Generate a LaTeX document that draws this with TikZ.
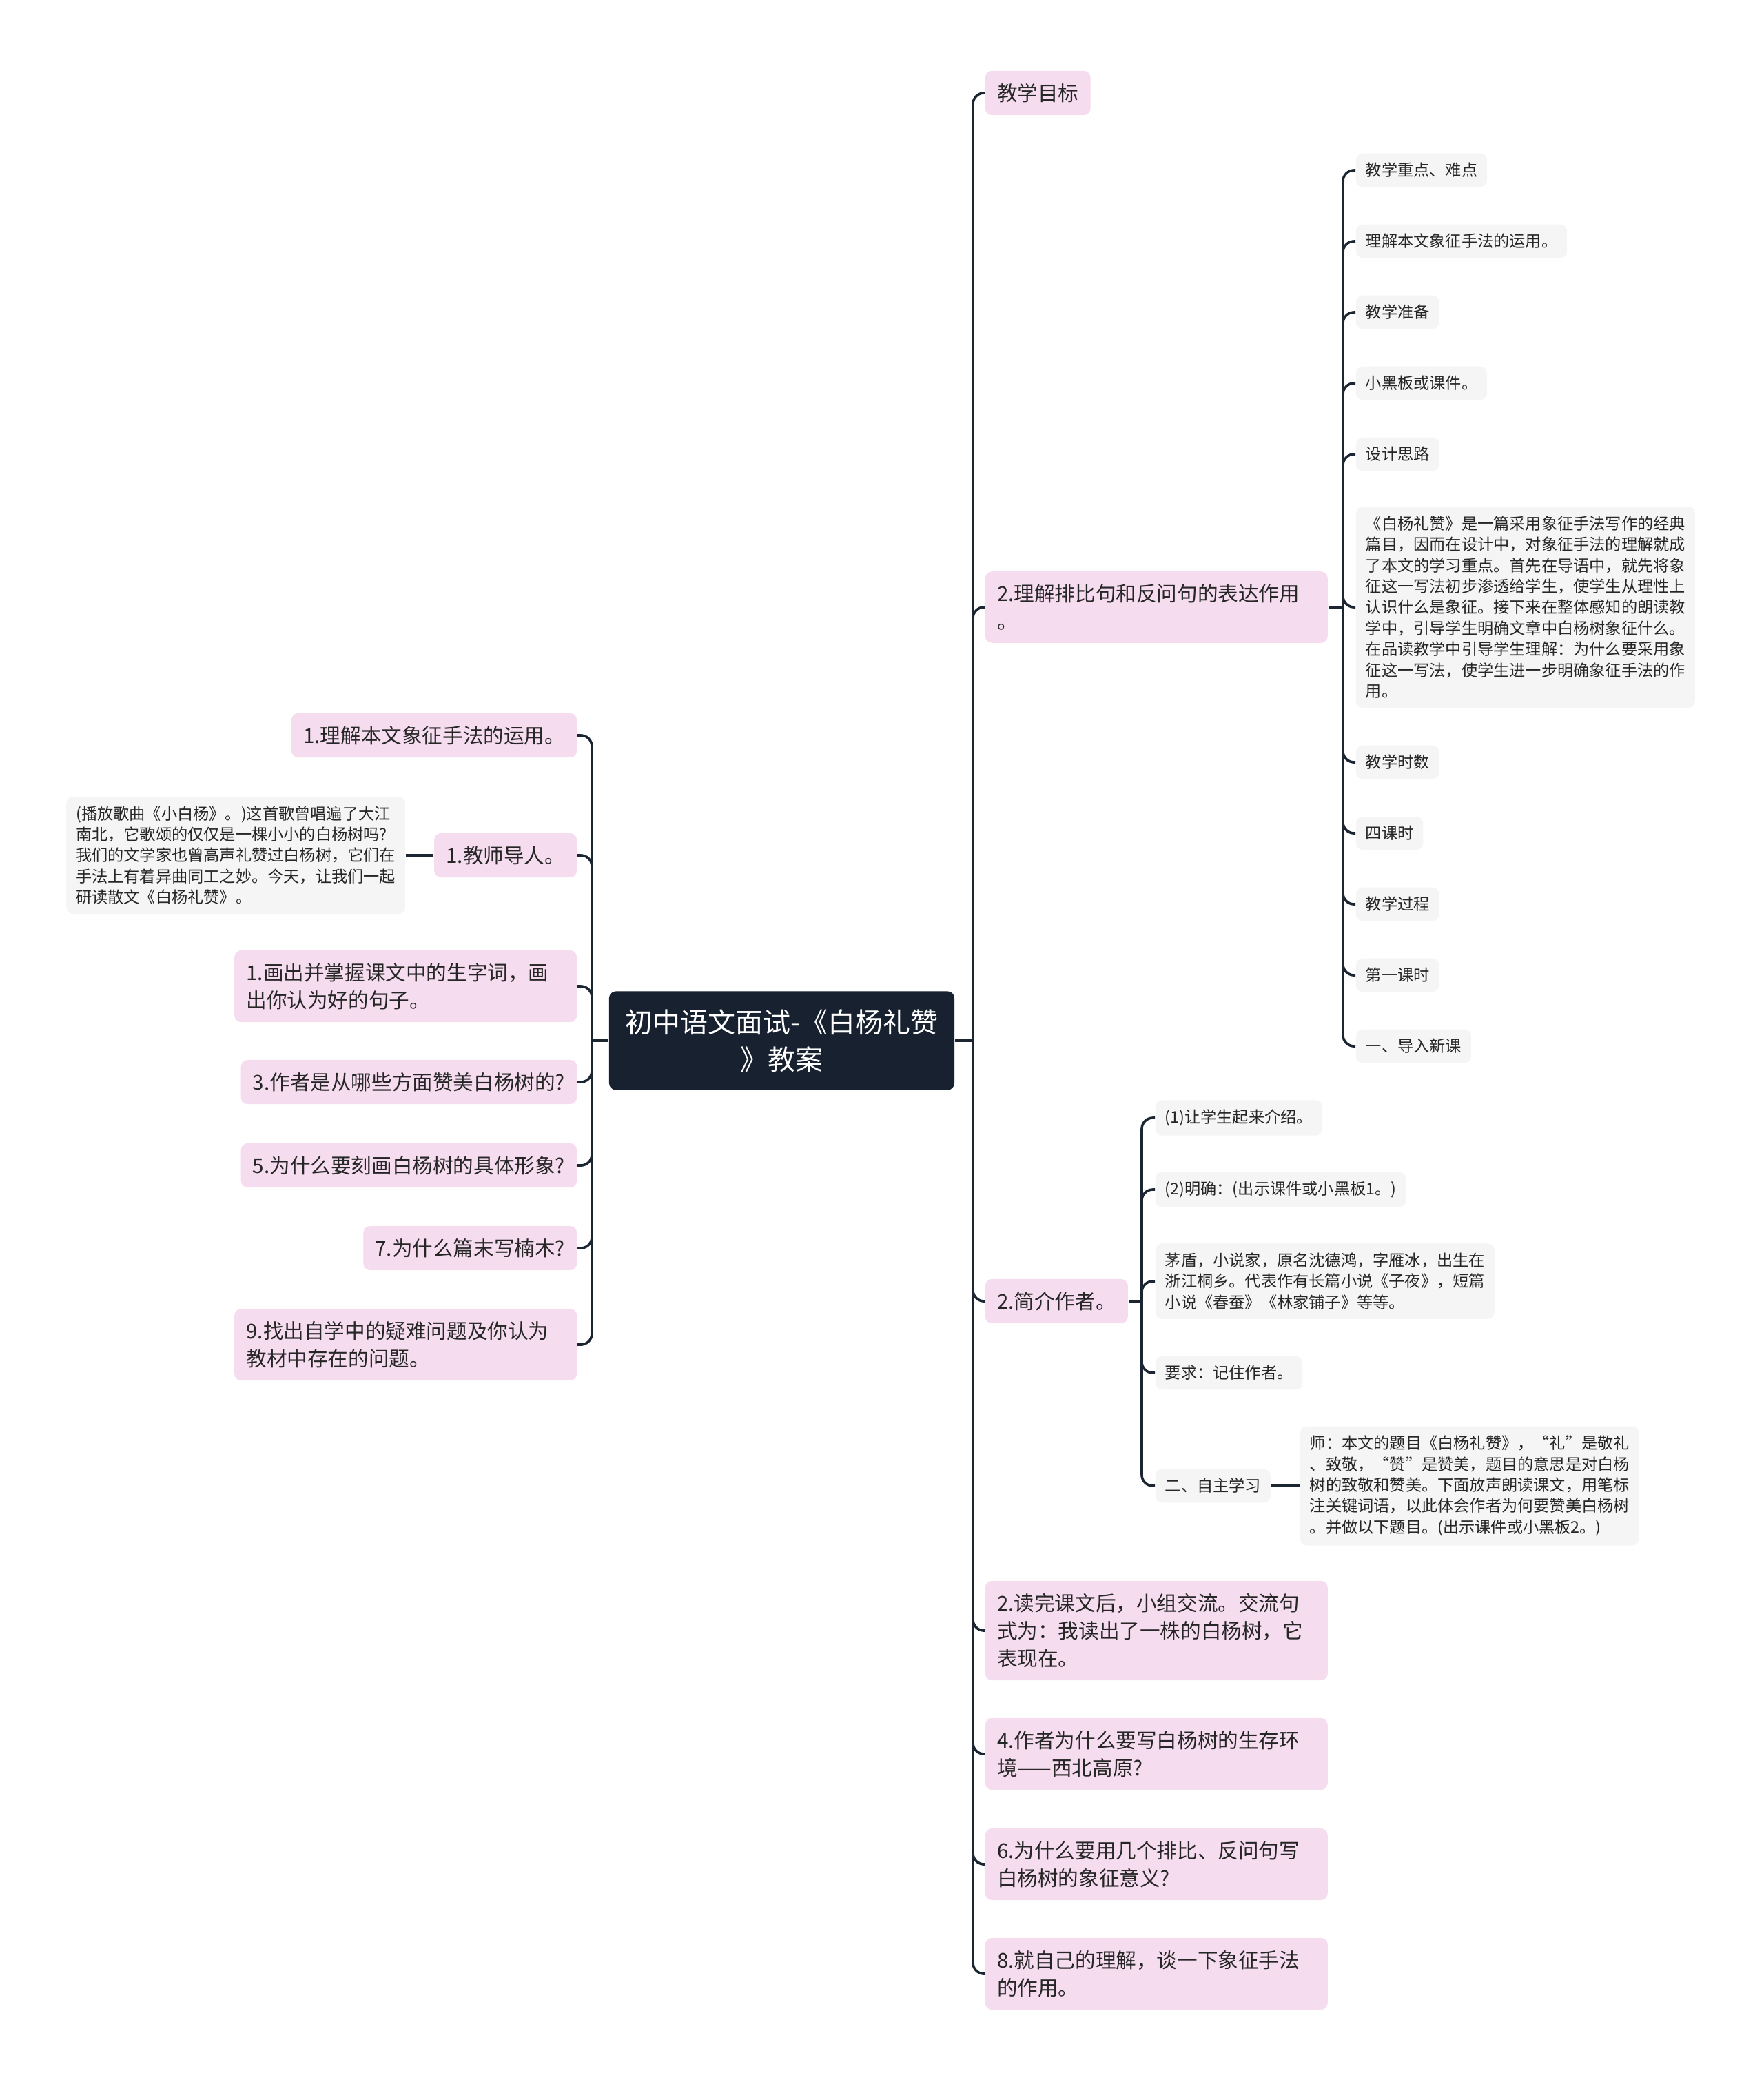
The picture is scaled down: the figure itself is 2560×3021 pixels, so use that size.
\documentclass[tikz,border=0pt]{standalone}
\usepackage{fontspec}
\setmainfont{Noto Sans CJK SC}
\definecolor{pinkc}{HTML}{F5DCEF}
\definecolor{grayc}{HTML}{F5F5F5}
\definecolor{rootc}{HTML}{17212F}
\definecolor{linec}{HTML}{1C2633}
\definecolor{textc}{HTML}{262626}
\newcommand\fpink{\fontsize{7.4pt}{10pt}\selectfont}
\newcommand\fgray{\fontsize{5.8pt}{7.6pt}\selectfont}
\newcommand\froot{\fontsize{10pt}{13.5pt}\selectfont}
\begin{document}
\begin{tikzpicture}[x=0.25pt,y=-0.25pt,
  conn/.style={draw=linec,line width=0.9pt,rounded corners=4pt},
  pinkbox/.style={fill=pinkc,rounded corners=2.5pt,inner xsep=4.3pt,inner ysep=4.6pt,align=left,font=\fpink,text=textc},
  pinkwide/.style={pinkbox,text width=115.65pt},
  graybox/.style={fill=grayc,rounded corners=2.5pt,inner xsep=3.5pt,inner ysep=3.4pt,align=left,font=\fgray,text=textc},
  rootbox/.style={fill=rootc,rounded corners=2.5pt,inner xsep=5.9pt,inner ysep=6.5pt,align=center,font=\froot,text=white}]
\useasboundingbox (0,0) rectangle (2560,3021);

% root
\node[rootbox] (root) at (1134.5,1510) {初中语文面试-《白杨礼赞\\》教案};

% right level 1
\node[pinkbox,anchor=west] (r1) at (1429,135) {教学目标};
\node[pinkwide,anchor=west] (r2) at (1429,881) {2.理解排比句和反问句的表达作用\\。};
\node[pinkbox,anchor=west] (r3) at (1429,1888) {2.简介作者。};
\node[pinkwide,anchor=west] (r4) at (1429,2366) {2.读完课文后，小组交流。交流句\\式为：我读出了一株的白杨树，它\\表现在。};
\node[pinkwide,anchor=west] (r5) at (1429,2545) {4.作者为什么要写白杨树的生存环\\境——西北高原?};
\node[pinkwide,anchor=west] (r6) at (1429,2705) {6.为什么要用几个排比、反问句写\\白杨树的象征意义?};
\node[pinkwide,anchor=west] (r7) at (1429,2864) {8.就自己的理解，谈一下象征手法\\的作用。};

% children of r2
\node[graybox,anchor=west] (a1) at (1967,247) {教学重点、难点};
\node[graybox,anchor=west] (a2) at (1967,350) {理解本文象征手法的运用。};
\node[graybox,anchor=west] (a3) at (1967,453) {教学准备};
\node[graybox,anchor=west] (a4) at (1967,556) {小黑板或课件。};
\node[graybox,anchor=west] (a5) at (1967,659) {设计思路};
\node[graybox,anchor=west] (a6) at (1967,881) {《白杨礼赞》是一篇采用象征手法写作的经典\\篇目，因而在设计中，对象征手法的理解就成\\了本文的学习重点。首先在导语中，就先将象\\征这一写法初步渗透给学生，使学生从理性上\\认识什么是象征。接下来在整体感知的朗读教\\学中，引导学生明确文章中白杨树象征什么。\\在品读教学中引导学生理解：为什么要采用象\\征这一写法，使学生进一步明确象征手法的作\\用。};
\node[graybox,anchor=west] (a7) at (1967,1106) {教学时数};
\node[graybox,anchor=west] (a8) at (1967,1209) {四课时};
\node[graybox,anchor=west] (a9) at (1967,1312) {教学过程};
\node[graybox,anchor=west] (a10) at (1967,1415) {第一课时};
\node[graybox,anchor=west] (a11) at (1967,1518) {一、导入新课};

% children of r3
\node[graybox,anchor=west] (b1) at (1676,1622) {(1)让学生起来介绍。};
\node[graybox,anchor=west] (b2) at (1676,1726) {(2)明确：(出示课件或小黑板1。)};
\node[graybox,anchor=west] (b3) at (1676,1859) {茅盾，小说家，原名沈德鸿，字雁冰，出生在\\浙江桐乡。代表作有长篇小说《子夜》，短篇\\小说《春蚕》《林家铺子》等等。};
\node[graybox,anchor=west] (b4) at (1676,1992) {要求：记住作者。};
\node[graybox,anchor=west] (b5) at (1676,2156) {二、自主学习};
\node[graybox,anchor=west] (b6) at (1886,2156) {师：本文的题目《白杨礼赞》，“礼”是敬礼\\、致敬，“赞”是赞美，题目的意思是对白杨\\树的致敬和赞美。下面放声朗读课文，用笔标\\注关键词语，以此体会作者为何要赞美白杨树\\。并做以下题目。(出示课件或小黑板2。)};

% left level 1
\node[pinkbox,anchor=east] (l1) at (838,1067) {1.理解本文象征手法的运用。};
\node[pinkbox,anchor=east] (l2) at (838,1241) {1.教师导人。};
\node[pinkwide,anchor=east] (l3) at (838,1431) {1.画出并掌握课文中的生字词，画\\出你认为好的句子。};
\node[pinkbox,anchor=east] (l4) at (838,1570) {3.作者是从哪些方面赞美白杨树的?};
\node[pinkbox,anchor=east] (l5) at (838,1691) {5.为什么要刻画白杨树的具体形象?};
\node[pinkbox,anchor=east] (l6) at (838,1811) {7.为什么篇末写楠木?};
\node[pinkwide,anchor=east] (l7) at (838,1951) {9.找出自学中的疑难问题及你认为\\教材中存在的问题。};
\node[graybox,anchor=east] (lp) at (589,1241) {(播放歌曲《小白杨》。)这首歌曾唱遍了大江\\南北，它歌颂的仅仅是一棵小小的白杨树吗?\\我们的文学家也曾高声礼赞过白杨树，它们在\\手法上有着异曲同工之妙。今天，让我们一起\\研读散文《白杨礼赞》。};

% junctions
\coordinate (rj) at (1412,1510);
\coordinate (lj) at (859,1510);
\coordinate (r2j) at (1949,881);
\coordinate (r3j) at (1657,1888);

% connectors
\draw[conn] (root.east) -- (rj);
\foreach \n in {r1,r2,r3,r4,r5,r6,r7} \draw[conn] (rj) |- (\n.west);
\draw[conn] (root.west) -- (lj);
\foreach \n in {l1,l2,l3,l4,l5,l6,l7} \draw[conn] (lj) |- (\n.east);
\draw[conn] (r2.east) -- (r2j);
\foreach \n in {a1,a2,a3,a4,a5,a6,a7,a8,a9,a10,a11} \draw[conn] (r2j) |- (\n.west);
\draw[conn] (r3.east) -- (r3j);
\foreach \n in {b1,b2,b3,b4,b5} \draw[conn] (r3j) |- (\n.west);
\draw[conn] (b5.east) -- (b6.west);
\draw[conn] (l2.west) -- (lp.east);
\end{tikzpicture}
\end{document}
